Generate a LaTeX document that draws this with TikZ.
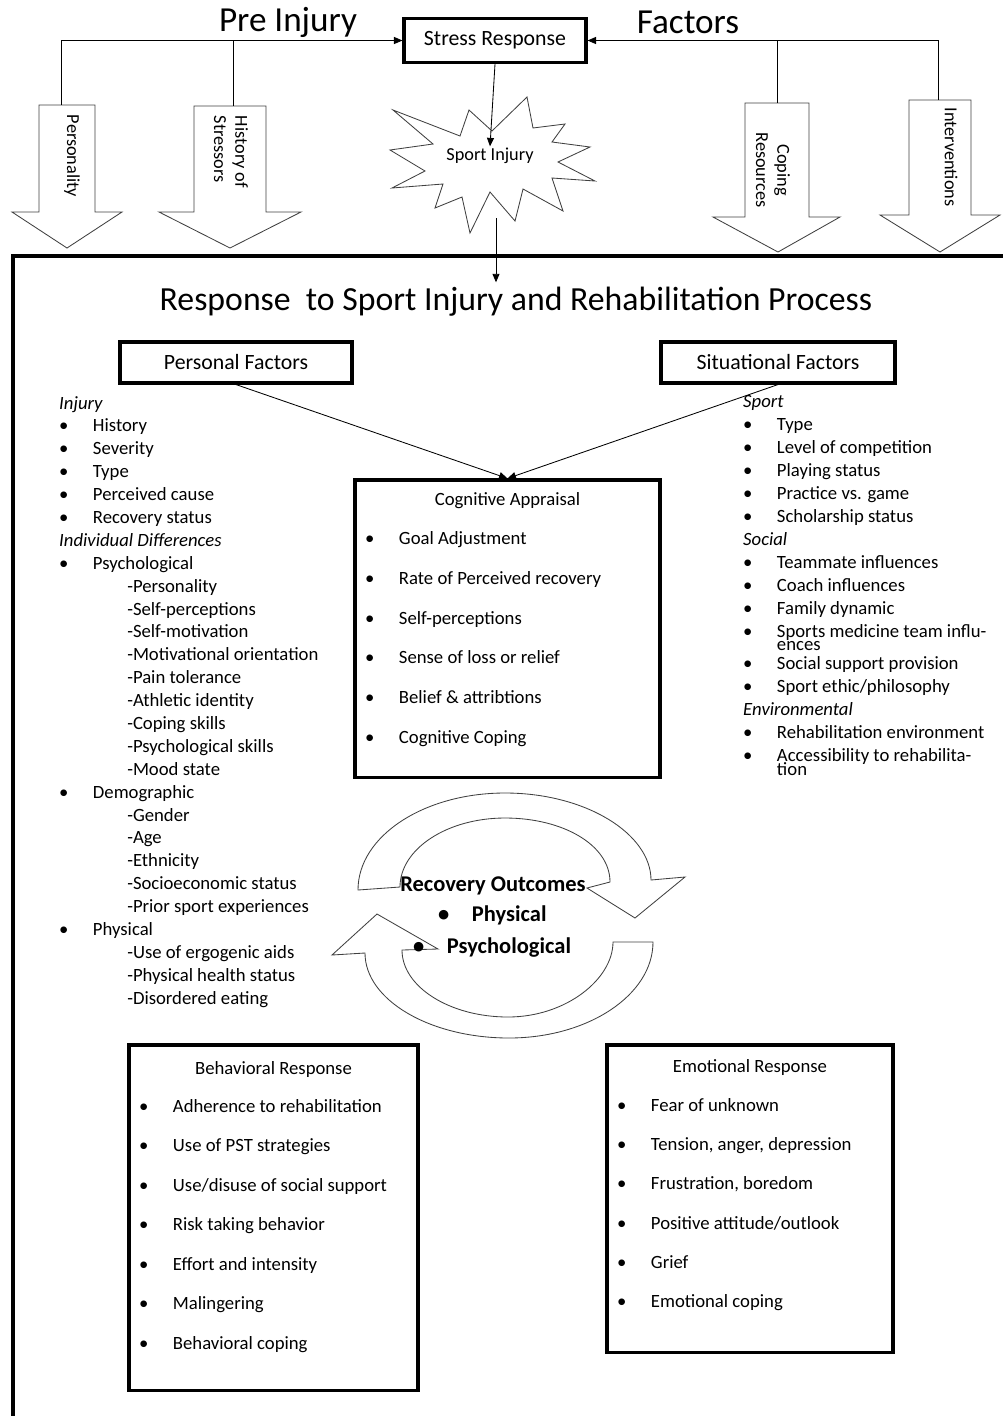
\documentclass[tikz,border=0pt]{standalone}
\usepackage{fontspec}
\setmainfont{Carlito}
\usetikzlibrary{arrows.meta,positioning}

\tikzset{
  heavybox/.style={draw,line width=2.2pt,inner sep=0pt},
  blockarrow/.style={draw=black!75,line width=0.6pt,fill=white},
  armtext/.style={font=\fontsize{13}{15}\selectfont,rotate=-90,inner sep=0pt},
  boxtitle/.style={font=\fontsize{13.3}{15}\selectfont,inner sep=0pt},
  listtext/.style={anchor=north west,align=left,inner sep=0pt},
}
\newcommand{\li}[1]{\makebox[24pt][l]{\textbullet}#1}
\newcommand{\subli}[1]{\hspace*{48.4pt}-#1}

\begin{document}
\begin{tikzpicture}[x=0.025cm,y=-0.025cm,>={Triangle[length=6pt,width=5pt]},line width=0.6pt]
  \useasboundingbox (0,0) rectangle (1003,1416);
  \clip (0,0) rectangle (1003,1416);

  % pre injury factors
  \node[font=\fontsize{25}{28}\selectfont] (pre) at (288,22) {Pre Injury};
  \node[font=\fontsize{25}{28}\selectfont] (factors) at (688,22) {Factors};
  \node[heavybox,minimum width=4.55cm,minimum height=1.1cm,font=\fontsize{15.5}{18}\selectfont] (stress) at (495,40.5) {Stress Response};

  \draw[blockarrow] (39,105) -- (95,105) -- (95,212) -- (122,212) -- (67,248) -- (12,212) -- (39,212) -- cycle;
  \draw[blockarrow] (194,106) -- (266,106) -- (266,212) -- (301,212) -- (230,248) -- (159,212) -- (194,212) -- cycle;
  \draw[blockarrow] (745,103) -- (809,103) -- (809,217) -- (840,217) -- (778,252) -- (713,217) -- (745,217) -- cycle;
  \draw[blockarrow] (909,100) -- (971,100) -- (971,215) -- (1000,215) -- (940,252) -- (880,215) -- (909,215) -- cycle;
  \node[armtext] (pers) at (72,156) {Personality};
  \node[armtext,align=left] (hist) at (231,152) {History of\\Stressors};
  \node[armtext,align=center] (cope) at (773,170) {Coping\\Resources};
  \node[armtext] (inter) at (951,157) {Interventions};

  \coordinate (perstop) at (61,105);
  \coordinate (histtop) at (233,106);
  \coordinate (copetop) at (777,103);
  \coordinate (intertop) at (938,100);
  \draw[->] (perstop) |- (stress.west);
  \draw (histtop) -- (histtop |- stress.west);
  \draw[->] (intertop) |- (stress.east);
  \draw (copetop) -- (copetop |- stress.east);

  % the injury
  \draw[blockarrow] (393,110) -- (460,136) -- (469,110) -- (492,131) -- (527,97) -- (533,128) -- (565,124) -- (552,142) -- (590,147) -- (558,162) -- (595,181) -- (552,178) -- (563,211) -- (523,189) -- (515,221) -- (490,192) -- (470,233) -- (462,197) -- (435,208) -- (443,184) -- (392,188) -- (425,171) -- (390,150) -- (433,144) -- cycle;
  \node[inner sep=1pt,font=\fontsize{13}{15}\selectfont] (injury) at (490,156) {Sport Injury};
  \draw[->] (stress.south) -- (injury.north);

  % rehabilitation frame
  \draw[line width=2.8pt] (13,1440) -- (13,256) -- (1030,256);
  \node[font=\fontsize{24}{27}\selectfont] (title) at (516,302) {Response\ \ to Sport Injury and Rehabilitation Process};
  \coordinate (starbot) at (496,218);
  \draw[->] (starbot) -- (starbot |- title.north);

  \node[heavybox,minimum width=5.8cm,minimum height=1.025cm,font=\fontsize{15.5}{18}\selectfont] (personal) at (236,362.5) {Personal Factors};
  \node[heavybox,minimum width=5.85cm,minimum height=1.025cm,font=\fontsize{15.5}{18}\selectfont] (situational) at (778,362.5) {Situational Factors};

  \node[listtext,font=\fontsize{13.3}{16.28}\selectfont] (perslist) at (58.8,394.5) {%
    \rule{0pt}{10pt}\textit{Injury}\\
    \li{History}\\
    \li{Severity}\\
    \li{Type}\\
    \li{Perceived cause}\\
    \li{Recovery status}\\
    \textit{Individual Differences}\\
    \li{Psychological}\\
    \subli{Personality}\\
    \subli{Self-perceptions}\\
    \subli{Self-motivation}\\
    \subli{Motivational orientation}\\
    \subli{Pain tolerance}\\
    \subli{Athletic identity}\\
    \subli{Coping skills}\\
    \subli{Psychological skills}\\
    \subli{Mood state}\\
    \li{Demographic}\\
    \subli{Gender}\\
    \subli{Age}\\
    \subli{Ethnicity}\\
    \subli{Socioeconomic status}\\
    \subli{Prior sport experiences}\\
    \li{Physical}\\
    \subli{Use of ergogenic aids}\\
    \subli{Physical health status}\\
    \subli{Disordered eating}};

  \node[listtext,font=\fontsize{13.3}{16.3}\selectfont] (sitlist) at (742.8,393.5) {%
    \rule{0pt}{10pt}\textit{Sport}\\
    \li{Type}\\
    \li{Level of competition}\\
    \li{Playing status}\\
    \li{Practice vs. game}\\
    \li{Scholarship status}\\
    \textit{Social}\\
    \li{Teammate influences}\\
    \li{Coach influences}\\
    \li{Family dynamic}\\
    \li{\rlap{\smash{\raisebox{-9.5pt}{ences}}}Sports medicine team influ-}\\[7pt]
    \li{Social support provision}\\
    \li{Sport ethic/philosophy}\\
    \textit{Environmental}\\
    \li{Rehabilitation environment}\\
    \li{\rlap{\smash{\raisebox{-9.5pt}{tion}}}Accessibility to rehabilita-}};

  % cognitive appraisal
  \node[heavybox,minimum width=7.625cm,minimum height=7.425cm] (cog) at (507.5,628.5) {};
  \node[boxtitle,below=10pt of cog.north] (cogtitle) {Cognitive Appraisal};
  \node[listtext,font=\fontsize{13.3}{28.2}\selectfont] (coglist) at (364.8,530.5) {%
    \rule{0pt}{10pt}\li{Goal Adjustment}\\
    \li{Rate of Perceived recovery}\\
    \li{Self-perceptions}\\
    \li{Sense of loss or relief}\\
    \li{Belief \& attribtions}\\
    \li{Cognitive Coping}};
  \draw[->] (personal.south) -- (cog.north);
  \draw[->] (situational.south) -- (cog.north);

  % recovery cycle
  \draw[blockarrow,fill=none] (358,890) .. controls (358,836) and (424,793) .. (505,793) .. controls (586,793) and (651,834) .. (651,880) -- (685,877) -- (635,918) -- (587,888) -- (610,882) .. controls (610,845) and (563,818) .. (505,818) .. controls (447,818) and (400,849) .. (400,887) -- cycle;
  \draw[blockarrow,fill=none] (653,942) .. controls (653,995) and (588,1038) .. (509,1038) .. controls (430,1038) and (365,1000) .. (365,953) -- (332,955) -- (377,914) -- (438,949) -- (402,950) .. controls (402,987) and (450,1017) .. (508,1017) .. controls (566,1017) and (613,979) .. (613,942) -- cycle;
  \node[font=\fontsize{16}{18}\selectfont\bfseries,inner sep=0pt] (recov) at (493,886) {Recovery Outcomes};
  \node[anchor=base west,font=\fontsize{16}{18}\selectfont\bfseries,inner sep=0pt] (phys) at (437.8,921) {\li{Physical}};
  \node[anchor=base west,font=\fontsize{16}{18}\selectfont\bfseries,inner sep=0pt] (psych) at (412.8,953) {\li{Psychological}};

  % behavioral and emotional response
  \node[heavybox,minimum width=7.225cm,minimum height=8.625cm] (behav) at (273.5,1217.5) {};
  \node[boxtitle,below=12.4pt of behav.north] (behavtitle) {Behavioral Response};
  \node[listtext,font=\fontsize{13.3}{28.1}\selectfont] (behavlist) at (138.8,1097.5) {%
    \rule{0pt}{10pt}\li{Adherence to rehabilitation}\\
    \li{Use of PST strategies}\\
    \li{Use/disuse of social support}\\
    \li{Risk taking behavior}\\
    \li{Effort and intensity}\\
    \li{Malingering}\\
    \li{Behavioral coping}};

  \node[heavybox,minimum width=7.15cm,minimum height=7.675cm] (emot) at (750,1198.5) {};
  \node[boxtitle,below=11pt of emot.north] (emottitle) {Emotional Response};
  \node[listtext,font=\fontsize{13.3}{28}\selectfont] (emotlist) at (616.8,1096.5) {%
    \rule{0pt}{10pt}\li{Fear of unknown}\\
    \li{Tension, anger, depression}\\
    \li{Frustration, boredom}\\
    \li{Positive attitude/outlook}\\
    \li{Grief}\\
    \li{Emotional coping}};
\end{tikzpicture}
\end{document}
